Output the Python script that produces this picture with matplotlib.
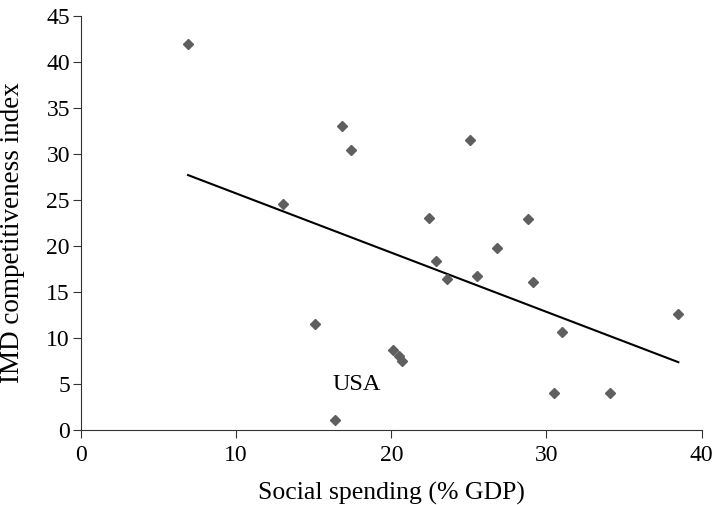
import numpy as np
import matplotlib
matplotlib.use("Agg")
import matplotlib.pyplot as plt

plt.rcParams['font.family'] = ['Liberation Serif', 'DejaVu Serif']

# social spending (% GDP) vs IMD competitiveness index
spending = [6.9, 16.8, 17.4, 13.0, 25.1, 22.4, 28.8, 26.8, 22.9, 23.6, 25.5,
            29.1, 38.5, 31.0, 20.1, 20.5, 20.7, 30.5, 34.1, 15.1, 16.4]
imd = [41.9, 33.0, 30.4, 24.6, 31.5, 23.0, 22.9, 19.8, 18.4, 16.4, 16.7,
       16.1, 12.6, 10.7, 8.7, 8.0, 7.5, 4.0, 4.0, 11.5, 1.1]

x = np.array(spending)
y = np.array(imd)
slope, intercept = np.polyfit(x, y, 1)  # linear trend
xl = np.array([x.min(), x.max()])

fig = plt.figure(figsize=(7.15, 5.05), dpi=100)
ax = fig.add_axes([0.1133, 0.1485, 0.868, 0.82])

ax.plot(xl, slope * xl + intercept, color='black', lw=1.5)
ax.plot(x, y, 'D', color='#5f5f5f', ms=5, mec='#5f5f5f')
ax.text(17.8, 4.9, 'USA', fontsize=17.5, ha='center', va='center')

ax.set_xlim(0, 40)
ax.set_ylim(0, 45)
ax.set_xticks(range(0, 41, 10))
ax.set_yticks(range(0, 46, 5))
ax.spines['top'].set_visible(False)
ax.spines['right'].set_visible(False)
ax.spines['left'].set_color('#333333')
ax.spines['bottom'].set_color('#333333')
ax.tick_params(labelsize=17, length=6, color='#333333', pad=2)
ax.tick_params(axis='x', pad=5)
ax.set_xlabel('Social spending (% GDP)', fontsize=18.5, labelpad=11)
ax.set_ylabel('IMD competitiveness index', fontsize=19.5)
ax.yaxis.set_label_coords(-0.09, 0.478)

fig.savefig('out.png', dpi=100)
